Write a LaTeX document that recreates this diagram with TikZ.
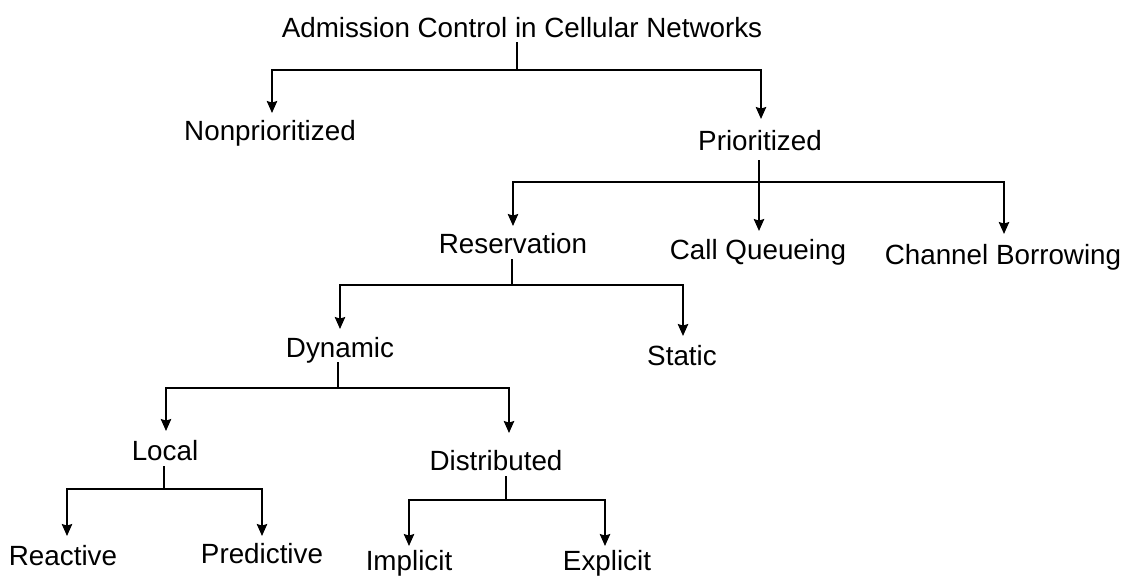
\documentclass[tikz,border=0pt]{standalone}
\usepackage{fontspec}
\setmainfont{Liberation Sans}
\usetikzlibrary{calc,arrows.meta}
\begin{document}
\begin{tikzpicture}[x=0.5pt,y=-0.5pt,
  label/.style={anchor=base,inner sep=0pt,outer sep=0pt,font=\fontsize{13.9}{16}\selectfont},
  link/.style={line width=1pt,line join=miter,line cap=rect},
  arr/.style={line width=1pt,line join=miter,-{Stealth[length=6pt,width=5.2pt,inset=0.8pt]}}]
\useasboundingbox (0,0) rectangle (1135,580);

% labels (anchored on their baselines)
\node[label] (root) at (522,37)  {Admission Control in Cellular Networks};
\node[label] (non)  at (270,140) {Nonprioritized};
\node[label] (pri)  at (760,150) {Prioritized};
\node[label] (res)  at (513,253) {Reservation};
\node[label] (cq)   at (758,259) {Call Queueing};
\node[label] (cb)   at (1003,264) {Channel Borrowing};
\node[label] (dyn)  at (340,357) {Dynamic};
\node[label] (sta)  at (682,365) {Static};
\node[label] (loc)  at (165,460) {Local};
\node[label] (dis)  at (496,470) {Distributed};
\node[label] (rea)  at (63,565)  {Reactive};
\node[label] (pre)  at (262,563) {Predictive};
\node[label] (imp)  at (409,570) {Implicit};
\node[label] (exp)  at (607,570) {Explicit};

% branch junctions
\coordinate (j0) at (517,70);
\coordinate (j1) at (759,182);
\coordinate (j2) at (512,285);
\coordinate (j3) at (338,388);
\coordinate (j4) at (164,489);
\coordinate (j5) at (506,500);

% admission control
\draw[link] ($(root.base)+(-5,6)$) -- (j0);
\draw[arr] (j0) -| ($(non.base)+(2,-27)$);
\draw[arr] (j0) -| ($(pri.base)+(1,-31)$);

% prioritized
\draw[arr] ($(pri.base)+(-1,10)$) -- ($(cq.base)+(1,-28)$);
\draw[arr] (j1) -| ($(res.base)+(0,-27)$);
\draw[arr] (j1) -| ($(cb.base)+(1,-30)$);

% reservation
\draw[link] ($(res.base)+(-1,7)$) -- (j2);
\draw[arr] (j2) -| ($(dyn.base)+(0,-28)$);
\draw[arr] (j2) -| ($(sta.base)+(1,-29)$);

% dynamic
\draw[link] ($(dyn.base)+(-2,6)$) -- (j3);
\draw[arr] (j3) -| ($(loc.base)+(1,-29)$);
\draw[arr] (j3) -| ($(dis.base)+(13,-37)$);

% local
\draw[link] ($(loc.base)+(-1,7)$) -- (j4);
\draw[arr] (j4) -| ($(rea.base)+(4,-29)$);
\draw[arr] (j4) -| ($(pre.base)+(0,-27)$);

% distributed
\draw[link] ($(dis.base)+(10,7)$) -- (j5);
\draw[arr] (j5) -| ($(imp.base)+(0,-24)$);
\draw[arr] (j5) -| ($(exp.base)+(-2,-24)$);
\end{tikzpicture}
\end{document}
